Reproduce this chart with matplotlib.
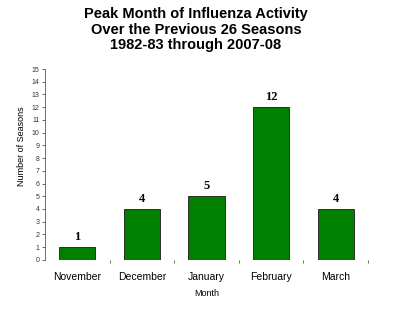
import matplotlib
matplotlib.use("Agg")
import matplotlib.pyplot as plt

months = ["November", "December", "January", "February", "March"]
seasons = [1, 4, 5, 12, 4]
yticks = list(range(0, 16))

fig = plt.figure(figsize=(4.0, 3.24), dpi=100)
ax = fig.add_axes([0.1125, 0.198, 0.8075, 0.589])
x = list(range(len(months)))
bars = ax.bar(x, seasons, width=0.56, color="#008000", edgecolor="#1a1a1a", linewidth=0.6)
for xi, v in zip(x, seasons):
    ax.text(xi, v + 0.35, str(v), ha="center", va="bottom", fontsize=9,
            fontweight="bold", family="Liberation Serif")
ax.set_xlim(-0.5, 4.5)
ax.set_ylim(0, 15)
ax.set_yticks(yticks)
ax.set_yticklabels([str(t) for t in yticks], fontsize=5, family="Liberation Sans", color="#333333")
ax.set_xticks([i + 0.5 for i in x])
ax.set_xticklabels([])
ax.set_xticks(x, minor=True)
ax.set_xticklabels(months, minor=True, fontsize=7.5, family="Liberation Sans")
ax.tick_params(axis="x", which="minor", length=0, pad=9)
ax.tick_params(axis="x", which="major", length=2.5, width=0.6, color="#555555")
ax.tick_params(axis="y", length=2, width=0.6, color="#555555", pad=2)
for s in ["top", "right", "bottom"]:
    ax.spines[s].set_visible(False)
ax.spines["left"].set_linewidth(0.6)
ax.spines["left"].set_color("#555555")
ax.set_xlabel("Month", fontsize=6.5, family="Liberation Sans")
ax.xaxis.set_label_coords(0.5, -0.155)
ax.set_ylabel("Number of Seasons", fontsize=6.5, family="Liberation Sans")
ax.yaxis.set_label_coords(-0.058, 0.597)
fig.text(0.49, 0.978, "Peak Month of Influenza Activity\nOver the Previous 26 Seasons\n1982-83 through 2007-08",
         ha="center", va="top", fontsize=10.5, fontweight="bold", family="Liberation Sans", linespacing=1.15)
fig.savefig("out.png", dpi=100)
